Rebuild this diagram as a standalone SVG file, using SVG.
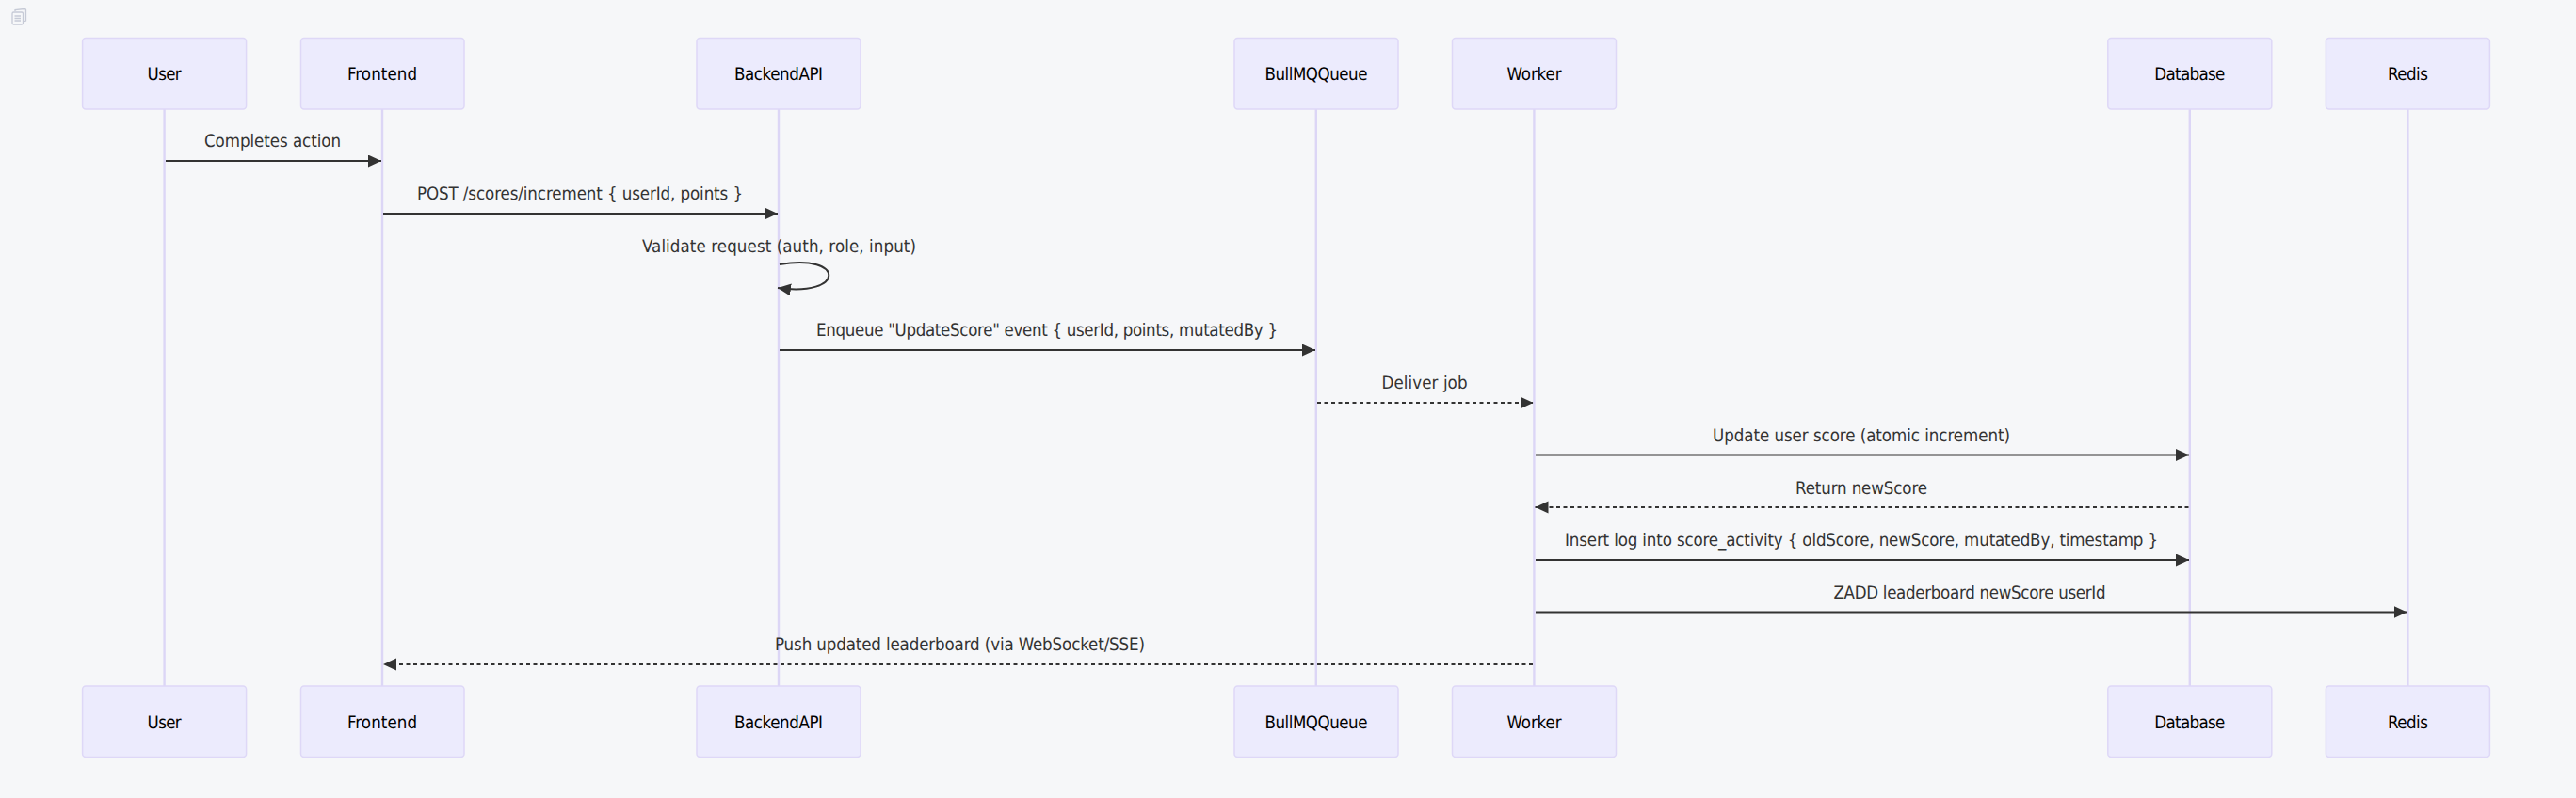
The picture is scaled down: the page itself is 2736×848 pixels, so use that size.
<svg xmlns="http://www.w3.org/2000/svg" width="2736" height="848" viewBox="0 0 2736 848">
<style>
text{font-family:"DejaVu Sans Condensed","DejaVu Sans",sans-serif;font-stretch:condensed;text-anchor:middle;text-rendering:geometricPrecision}
.a{fill:#ECEBFD;stroke:#DED8F7;stroke-width:1.5}
.n{font-size:18.56px;fill:#000}
.l{stroke:#DCD6F6;stroke-width:2.4;fill:none}
.m{font-size:18.56px;fill:#333}
.c{stroke:#333;stroke-width:2;fill:none}
.d{stroke-dasharray:4 3.5}
</style>
<defs>
<marker id="ah" markerUnits="userSpaceOnUse" markerWidth="15" markerHeight="14" refX="14" refY="6.5" orient="auto"><path d="M0 0L14 6.5L0 13Z" fill="#333"/></marker>
</defs>
<rect width="2736" height="848" fill="#F6F7F9"/>
<g id="copy-icon" fill="none" stroke="#C6CAD6" stroke-width="1.3"><rect x="13" y="13" width="11.500" height="13" rx="1.500"/><path d="M16 12V10.500L26 9.500Q28 10 27.500 11V22L25 23"/><path d="M15.500 17H22M15.500 19.500H22M15.500 22H22"/></g>
<g id="lifelines">
<line class="l" x1="174.600" y1="116" x2="174.600" y2="729"/>
<line class="l" x1="406" y1="116" x2="406" y2="729"/>
<line class="l" x1="827" y1="116" x2="827" y2="729"/>
<line class="l" x1="1397.800" y1="116" x2="1397.800" y2="729"/>
<line class="l" x1="1629.400" y1="116" x2="1629.400" y2="729"/>
<line class="l" x1="2325.800" y1="116" x2="2325.800" y2="729"/>
<line class="l" x1="2557.400" y1="116" x2="2557.400" y2="729"/>
</g>
<g id="connectors">
<line class="c" marker-end="url(#ah)" x1="176" y1="171" x2="405" y2="171"/>
<line class="c" marker-end="url(#ah)" x1="407" y1="227" x2="826" y2="227"/>
<path class="c" marker-end="url(#ah)" d="M828 281C898 269 898 316 826 306"/>
<line class="c" marker-end="url(#ah)" x1="828" y1="372" x2="1397" y2="372"/>
<line class="c d" marker-end="url(#ah)" x1="1399" y1="428" x2="1628.500" y2="428"/>
<line class="c" marker-end="url(#ah)" x1="1631" y1="483.500" x2="2325" y2="483.500"/>
<line class="c d" marker-end="url(#ah)" x1="2324.500" y1="539" x2="1630.500" y2="539"/>
<line class="c" marker-end="url(#ah)" x1="1631" y1="595" x2="2325" y2="595"/>
<line class="c" marker-end="url(#ah)" x1="1631" y1="650.500" x2="2556.500" y2="650.500"/>
<line class="c d" marker-end="url(#ah)" x1="1628" y1="706" x2="407" y2="706"/>
</g>
<g id="labels">
<text class="m" x="289.500" y="156.400" textLength="145">Completes action</text>
<text class="m" x="616" y="212" textLength="346">POST /scores/increment { userId, points }</text>
<text class="m" x="827.500" y="267.500" textLength="291">Validate request (auth, role, input)</text>
<text class="m" x="1112" y="357.400" textLength="490">Enqueue "UpdateScore" event { userId, points, mutatedBy }</text>
<text class="m" x="1513" y="413" textLength="91">Deliver job</text>
<text class="m" x="1977" y="468.900" textLength="316">Update user score (atomic increment)</text>
<text class="m" x="1977" y="524.500" textLength="140">Return newScore</text>
<text class="m" x="1977" y="580" textLength="630">Insert log into score_activity { oldScore, newScore, mutatedBy, timestamp }</text>
<text class="m" x="2092" y="635.500" textLength="289">ZADD leaderboard newScore userId</text>
<text class="m" x="1019.500" y="691" textLength="393">Push updated leaderboard (via WebSocket/SSE)</text>
</g>
<g id="user-top"><rect class="a" x="87.600" y="40.600" width="174" height="75.400" rx="3.500"/><text class="n" x="174.600" y="85" textLength="36">User</text></g>
<g id="frontend-top"><rect class="a" x="319.500" y="40.600" width="173.500" height="75.400" rx="3.500"/><text class="n" x="406" y="85" textLength="74">Frontend</text></g>
<g id="backend-top"><rect class="a" x="740" y="40.600" width="174" height="75.400" rx="3.500"/><text class="n" x="827" y="85" textLength="94">BackendAPI</text></g>
<g id="queue-top"><rect class="a" x="1311" y="40.600" width="174" height="75.400" rx="3.500"/><text class="n" x="1398" y="85" textLength="109">BullMQQueue</text></g>
<g id="worker-top"><rect class="a" x="1542.500" y="40.600" width="174" height="75.400" rx="3.500"/><text class="n" x="1629.500" y="85" textLength="58">Worker</text></g>
<g id="database-top"><rect class="a" x="2238.800" y="40.600" width="174" height="75.400" rx="3.500"/><text class="n" x="2325.800" y="85" textLength="75">Database</text></g>
<g id="redis-top"><rect class="a" x="2470.400" y="40.600" width="174" height="75.400" rx="3.500"/><text class="n" x="2557.400" y="85" textLength="43">Redis</text></g>
<g id="user-bottom"><rect class="a" x="87.600" y="729" width="174" height="75.400" rx="3.500"/><text class="n" x="174.600" y="774" textLength="36">User</text></g>
<g id="frontend-bottom"><rect class="a" x="319.500" y="729" width="173.500" height="75.400" rx="3.500"/><text class="n" x="406" y="774" textLength="74">Frontend</text></g>
<g id="backend-bottom"><rect class="a" x="740" y="729" width="174" height="75.400" rx="3.500"/><text class="n" x="827" y="774" textLength="94">BackendAPI</text></g>
<g id="queue-bottom"><rect class="a" x="1311" y="729" width="174" height="75.400" rx="3.500"/><text class="n" x="1398" y="774" textLength="109">BullMQQueue</text></g>
<g id="worker-bottom"><rect class="a" x="1542.500" y="729" width="174" height="75.400" rx="3.500"/><text class="n" x="1629.500" y="774" textLength="58">Worker</text></g>
<g id="database-bottom"><rect class="a" x="2238.800" y="729" width="174" height="75.400" rx="3.500"/><text class="n" x="2325.800" y="774" textLength="75">Database</text></g>
<g id="redis-bottom"><rect class="a" x="2470.400" y="729" width="174" height="75.400" rx="3.500"/><text class="n" x="2557.400" y="774" textLength="43">Redis</text></g>
</svg>
